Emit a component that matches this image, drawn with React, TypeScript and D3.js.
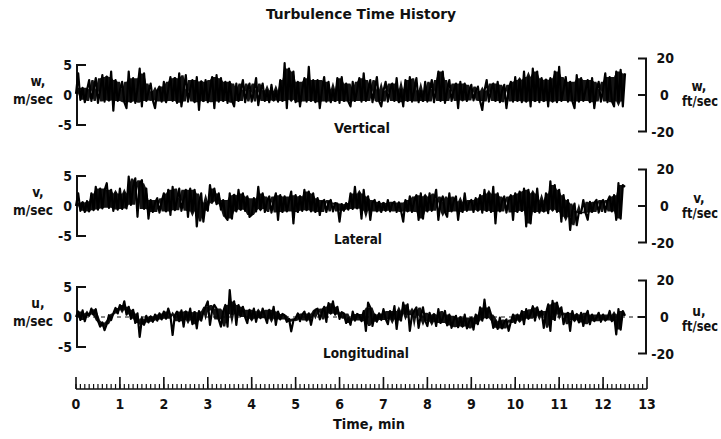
import React from "react";
import * as d3 from "d3";

// Recorded gust velocity components (m/sec), one sample every 0.05 min.
const sampleStepMin = 0.05;

const wVertical = [
  0.2, 3.6, -0.8, 1.2, -1.2, 0.8, 2.5, -1.0, 0.9, 2.8,
  -1.3, 0.7, 3.3, -1.1, 3.0, -0.9, 3.9, -2.6, 2.5, -1.0,
  0.8, 2.2, -1.2, -2.2, 3.9, -1.1, 2.8, -1.3, 1.0, 4.4,
  -1.9, 3.6, -1.0, 0.6, 1.9, -0.9, -2.2, 0.7, 1.4, -1.1,
  2.2, -1.2, 0.9, 3.0, -1.0, 2.8, -1.3, 3.6, -1.9, 0.8,
  3.3, -1.1, 0.9, 2.5, -1.2, 3.0, -2.5, 2.2, -1.0, 2.5,
  -1.2, 0.8, 3.0, -2.2, 3.3, -1.1, 2.8, -1.0, 2.2, -1.3,
  2.2, -0.9, -1.9, 1.9, -1.0, 0.7, 2.5, -1.2, 0.8, 1.9,
  -1.1, 0.6, 2.8, -1.7, 0.7, 1.9, -1.0, 0.8, -1.2, 1.7,
  -0.9, 0.7, -1.1, 2.5, -1.0, 5.3, -2.2, 4.4, -0.8, 3.9,
  -1.2, 2.2, -1.9, 0.9, 2.8, -1.1, 4.7, -1.0, 2.5, -1.2,
  2.5, -2.2, 0.8, 3.0, -1.1, 2.2, -1.2, 0.9, -1.0, 2.8,
  -1.3, 3.0, -1.0, 1.9, -1.1, -1.9, 2.2, -1.0, 0.8, 2.8,
  -1.1, 3.6, -1.0, 0.8, 2.5, -1.2, 0.9, 3.0, -1.0, -1.9,
  0.7, 2.2, -1.1, 0.8, 1.9, -1.0, 2.8, -1.2, 0.9, -1.9,
  2.5, -1.0, 3.0, -1.1, 0.8, 2.8, -1.2, 0.7, -1.0, 2.2,
  -1.1, 0.8, 2.5, -1.2, 0.9, 3.9, -1.0, 3.9, -1.3, 0.8,
  2.5, -1.0, 0.7, 1.9, -2.2, 2.2, -0.9, 1.9, -1.0, 0.6,
  1.7, -0.9, 0.6, 1.4, -1.0, -2.5, 0.7, 2.5, -1.1, 0.8,
  1.9, -1.0, 2.2, -1.2, 0.7, 1.7, -2.2, 0.8, 2.2, -1.1,
  3.0, -1.0, 2.5, -1.2, 3.9, -1.1, 3.0, -1.9, 4.4, -1.0,
  3.9, -1.2, 2.8, -1.0, 2.5, -1.9, 2.8, -1.1, 3.9, -1.2,
  4.7, -1.0, 0.9, 3.0, -1.1, 2.2, -1.0, -2.2, 3.3, -1.1,
  2.8, -1.0, 0.8, 2.5, -1.2, 2.8, -2.2, 0.9, 2.2, -1.1,
  0.9, 3.6, -1.2, 3.0, -1.0, -1.9, 3.9, -1.1, 4.2, -1.9,
  3.6,
];

const vLateral = [
  0.0, 2.1, -0.8, 0.6, -1.0, 0.8, -0.9, 2.1, -0.7, 3.2,
  -0.6, 2.9, -0.4, 2.6, 3.8, -0.3, 2.7, -0.8, 2.1, -0.6,
  2.9, -0.5, 2.1, -0.4, 4.9, 0.2, 3.2, 4.6, -1.8, 3.8,
  4.3, -0.5, 2.9, -2.1, 1.0, -1.0, 0.6, 1.3, -1.1, 0.7,
  2.1, -0.9, 2.7, -1.5, 3.2, -0.7, 1.0, 2.9, -0.8, 1.1,
  2.7, -1.8, 2.9, -0.9, 2.7, -3.4, 0.6, 2.1, -2.6, 0.5,
  -0.8, 3.5, 0.8, 2.9, 0.3, 2.1, -0.6, 1.0, -1.8, -2.3,
  2.1, -2.1, 1.8, -0.9, 2.7, -0.6, 2.1, -0.8, 1.6, -1.8,
  -1.5, 1.3, -0.9, 3.2, -0.5, 2.1, -1.0, 0.8, 1.6, -1.1,
  0.7, 2.1, -2.3, 1.8, -1.0, 1.6, -0.9, 0.8, 2.4, -2.9,
  1.8, -1.0, 1.6, -0.8, 2.7, -0.7, 2.4, -0.9, 2.1, -1.0,
  1.3, -1.5, 0.7, 1.0, -1.0, 0.6, 1.0, -0.9, 0.5, 0.4,
  -2.6, 0.3, -0.8, 0.5, -0.6, 2.1, -0.5, 3.2, -0.4, 2.1,
  -2.1, 2.7, -0.8, 1.6, -2.3, 0.6, 1.0, -0.9, 0.7, -1.0,
  0.5, -0.8, 1.0, -0.9, 0.4, 0.7, -1.0, 0.6, -0.8, -2.6,
  1.0, -0.9, 1.6, -1.0, 0.8, 1.8, -2.3, 2.1, -2.1, 1.6,
  -0.9, 2.1, -0.8, 0.9, 2.7, -2.3, 0.7, 1.6, -1.0, -1.8,
  2.1, -0.9, 0.8, 1.6, -2.3, 0.7, -1.0, 2.1, -0.8, 0.6,
  1.0, -1.0, 1.3, -0.7, 1.8, -1.1, 2.7, -0.8, 2.1, -1.0,
  3.2, -2.9, 2.1, -0.9, 0.8, 1.6, -1.1, 0.9, 1.8, -2.3,
  2.1, -1.0, 2.4, -0.8, 2.9, -3.4, 2.7, -2.9, 2.1, -1.0,
  2.9, -1.1, 0.9, -0.9, 2.1, -1.2, 4.1, -0.6, 3.5, -1.0,
  2.7, -2.6, 1.8, -1.8, 1.0, -4.0, -0.8, 0.4, -3.2, -1.0,
  -1.2, 1.0, -1.1, -2.3, 0.7, -1.0, 0.5, 1.0, -1.1, 0.6,
  1.0, -1.0, 0.8, 1.6, -0.9, 1.8, -2.3, 3.8, -2.1, 3.5,
  3.2,
];

const uLongitudinal = [
  0.0, 0.9, -0.5, 1.1, -0.7, 0.6, 0.2, 1.4, 0.4, 1.3,
  -0.6, -1.6, -0.9, -2.2, -1.2, 0.3, -0.5, 0.6, 1.5, 0.6,
  2.0, 1.2, 2.6, 0.4, 1.7, -0.3, 1.2, -1.0, 0.6, -3.3,
  -0.4, -1.3, 0.2, -0.9, 0.1, -0.8, 0.4, -0.6, 0.6, -0.4,
  0.9, -0.3, 1.4, 0.2, -3.0, 0.3, 0.9, -0.7, 1.1, -1.6,
  0.9, -0.5, 1.4, -1.2, 0.8, -1.9, 1.0, -0.6, 0.8, 1.7,
  2.6, -1.3, 1.1, 2.0, 1.4, -0.4, -1.6, 0.9, 2.0, -1.6,
  4.5, 0.5, 2.6, -1.3, 2.0, 0.2, 1.7, 0.0, -1.0, 1.2,
  -0.3, 1.4, -0.8, 0.9, -0.2, 1.4, 0.1, -1.0, 1.2, -0.3,
  1.7, -1.3, 0.9, -0.4, 0.5, 0.3, -0.8, -0.3, -2.4, -0.6,
  -0.2, 0.6, -0.7, 0.4, 0.9, -0.6, 0.6, -1.3, 0.4, 1.2,
  1.4, -0.4, 0.8, 1.7, -0.8, 2.3, 0.6, 2.6, 0.4, 1.7,
  -0.3, 0.8, 0.6, -1.0, -0.2, -1.3, 0.9, -0.6, 0.5, 0.3,
  -0.7, 1.0, -2.3, 2.4, 1.6, -1.5, 0.4, -0.8, 0.6, -0.5,
  1.3, -0.3, -1.2, 1.0, -0.4, 1.8, -2.0, 1.0, -0.6, 2.4,
  0.5, 2.1, -2.3, 0.3, 1.0, 1.6, -1.8, 0.2, 1.6, -0.6,
  -1.5, 0.7, -0.8, 0.4, -1.5, 1.3, -1.0, -0.2, 1.0, -1.4,
  0.4, -1.8, -0.5, 0.2, -1.7, -0.1, -1.6, 0.4, -1.9, -0.8,
  -0.1, -2.1, 0.4, -1.2, 1.6, -0.6, 2.9, -0.2, 1.6, 0.4,
  -1.8, -0.7, -2.0, -0.1, -1.9, -0.9, -0.4, -2.3, -0.8, 0.4,
  -1.0, 0.4, -0.6, 1.0, -1.2, 1.3, -0.3, 0.5, 1.8, -0.6,
  1.6, 0.2, 1.0, -1.8, 0.6, 2.1, -2.3, 2.7, -0.5, 2.4,
  0.6, 1.6, -1.2, 0.3, 0.7, -2.3, 1.0, -0.5, 0.4, -0.9,
  0.7, -1.5, 0.2, 1.0, -1.2, 0.4, -0.7, -0.1, 0.7, -0.8,
  0.4, -0.6, -0.2, 1.0, -0.7, 0.4, -2.9, 1.3, -2.1, 1.0,
  0.2,
];

// Axis labels
const timeTicks = [0, 1, 2, 3, 4, 5, 6, 7, 8, 9, 10, 11, 12, 13];
const metricTicks = [5, 0, -5];
const imperialTicks = [20, 0, -20];
const FT_PER_M = 1 / 0.3048;

const FONT =
  "'Liberation Sans Narrow','DejaVu Sans Condensed','Roboto Condensed','Liberation Sans',sans-serif";

type Panel = {
  name: string;
  nameWidth: number;
  symbol: string;
  values: number[];
  zeroY: number;
  labelX: number;
  labelDy: number;
  rightDy: number;
  dashedZero: boolean;
};

const panels: Panel[] = [
  { name: "Vertical", nameWidth: 56, symbol: "w,", values: wVertical, zeroY: 95, labelX: 362, labelDy: 38, rightDy: 0, dashedZero: false },
  { name: "Lateral", nameWidth: 48, symbol: "v,", values: vLateral, zeroY: 206, labelX: 358, labelDy: 38, rightDy: 1, dashedZero: false },
  { name: "Longitudinal", nameWidth: 86, symbol: "u,", values: uLongitudinal, zeroY: 317, labelX: 366, labelDy: 41, rightDy: 3, dashedZero: true },
];

const PX_PER_MS = 6;

// Dense pen trace: the solid core of the record spans the second-lowest to
// second-highest sample within a five-sample window; spikes stay on the line.
function traceCore(values: number[]): [number, number][] {
  return values.map((_, i) => {
    const win = values.slice(Math.max(0, i - 2), i + 3).sort((a, b) => a - b);
    return [win[1], win[win.length - 2]];
  });
}

export default function App() {
  const x = d3.scaleLinear().domain([0, 13]).range([76, 647]);
  const xLeft = x(0) + 1;
  const xRight = x(13) - 1;
  const axisY = 389;
  const minorTicks = d3.range(0, 130).map((k) => k / 10);

  return (
    <svg
      width={721}
      height={439}
      style={{ display: "block", background: "#fff", position: "absolute", left: 0, top: 0 }}
    >
      <g fontFamily={FONT} fontWeight="bold" fill="#111">
        <text x={361} y={19} fontSize={14.5} textAnchor="middle" textLength={190} lengthAdjust="spacingAndGlyphs">
          Turbulence Time History
        </text>

        {panels.map((p) => {
          const y = d3
            .scaleLinear()
            .domain([-5, 5])
            .range([p.zeroY + 5 * PX_PER_MS, p.zeroY - 5 * PX_PER_MS]);
          const yFt = d3
            .scaleLinear()
            .domain([-20, 20])
            .range([p.zeroY + (20 / FT_PER_M) * PX_PER_MS, p.zeroY - (20 / FT_PER_M) * PX_PER_MS]);
          const line = d3
            .line<number>()
            .x((_, i) => x(i * sampleStepMin))
            .y((d) => y(d));
          const area = d3
            .area<[number, number]>()
            .x((_, i) => x(i * sampleStepMin))
            .y0((d) => y(d[0]))
            .y1((d) => y(d[1]));
          const top = y(5);
          const bot = y(-5);
          const topR = yFt(20);
          const botR = yFt(-20);
          return (
            <g key={p.name}>
              {/* left metric bracket */}
              <path
                d={`M${xLeft + 9},${top} H${xLeft} V${bot} H${xLeft + 9}`}
                fill="none"
                stroke="#111"
                strokeWidth={2}
              />
              {metricTicks.map((t) => (
                <text key={t} x={72} y={y(t)} dy="0.36em" fontSize={14} textAnchor="end">
                  {t === 0 ? "0" : t > 0 ? `${t}` : `-${-t}`}
                </text>
              ))}
              <text x={38} y={p.zeroY - 9} fontSize={13.5} textAnchor="middle">
                {p.symbol}
              </text>
              <text x={33} y={p.zeroY + 9} fontSize={13.5} textAnchor="middle" textLength={40} lengthAdjust="spacingAndGlyphs">
                m/sec
              </text>

              {/* right imperial bracket */}
              <path
                d={`M${xRight - 8},${topR} H${xRight} V${botR} H${xRight - 8} M${xRight},${yFt(0)} H${xRight - 8}`}
                fill="none"
                stroke="#111"
                strokeWidth={2}
              />
              {imperialTicks.map((t) => (
                <text
                  key={t}
                  x={t === 0 ? 660 : 674}
                  y={yFt(t)}
                  dy="0.36em"
                  fontSize={14}
                  textAnchor={t === 0 ? "start" : "end"}
                >
                  {t === 0 ? "0" : t > 0 ? `${t}` : `-${-t}`}
                </text>
              ))}
              <text x={699} y={p.zeroY - 4 + p.rightDy} fontSize={13.5} textAnchor="middle">
                {p.symbol}
              </text>
              <text x={700} y={p.zeroY + 11 + p.rightDy} fontSize={13.5} textAnchor="middle" textLength={36} lengthAdjust="spacingAndGlyphs">
                ft/sec
              </text>

              {p.dashedZero && (
                <line
                  x1={xLeft}
                  x2={xRight}
                  y1={y(0)}
                  y2={y(0)}
                  stroke="#111"
                  strokeWidth={1}
                  strokeDasharray="4 4"
                />
              )}

              <path d={area(traceCore(p.values)) ?? ""} fill="#000" opacity={0.92} />
              <path d={line(p.values) ?? ""} fill="none" stroke="#000" strokeWidth={2.2} strokeLinejoin="round" />

              <text
                x={p.labelX}
                y={p.zeroY + p.labelDy}
                fontSize={14}
                textAnchor="middle"
                textLength={p.nameWidth}
                lengthAdjust="spacingAndGlyphs"
              >
                {p.name}
              </text>
            </g>
          );
        })}

        {/* time axis */}
        <line x1={x(0)} x2={x(13)} y1={axisY} y2={axisY} stroke="#111" strokeWidth={1.6} />
        {minorTicks.map((t) => (
          <line key={`m${t}`} x1={x(t)} x2={x(t)} y1={axisY} y2={axisY - 5} stroke="#111" strokeWidth={1.2} />
        ))}
        {timeTicks.map((t) => (
          <g key={t}>
            <line x1={x(t)} x2={x(t)} y1={axisY} y2={axisY - 12} stroke="#111" strokeWidth={1.6} />
            <text x={x(t)} y={axisY + 20} fontSize={14} textAnchor="middle">
              {t}
            </text>
          </g>
        ))}
        <text x={369} y={429} fontSize={14} textAnchor="middle" textLength={72} lengthAdjust="spacingAndGlyphs">
          Time, min
        </text>
      </g>
    </svg>
  );
}
